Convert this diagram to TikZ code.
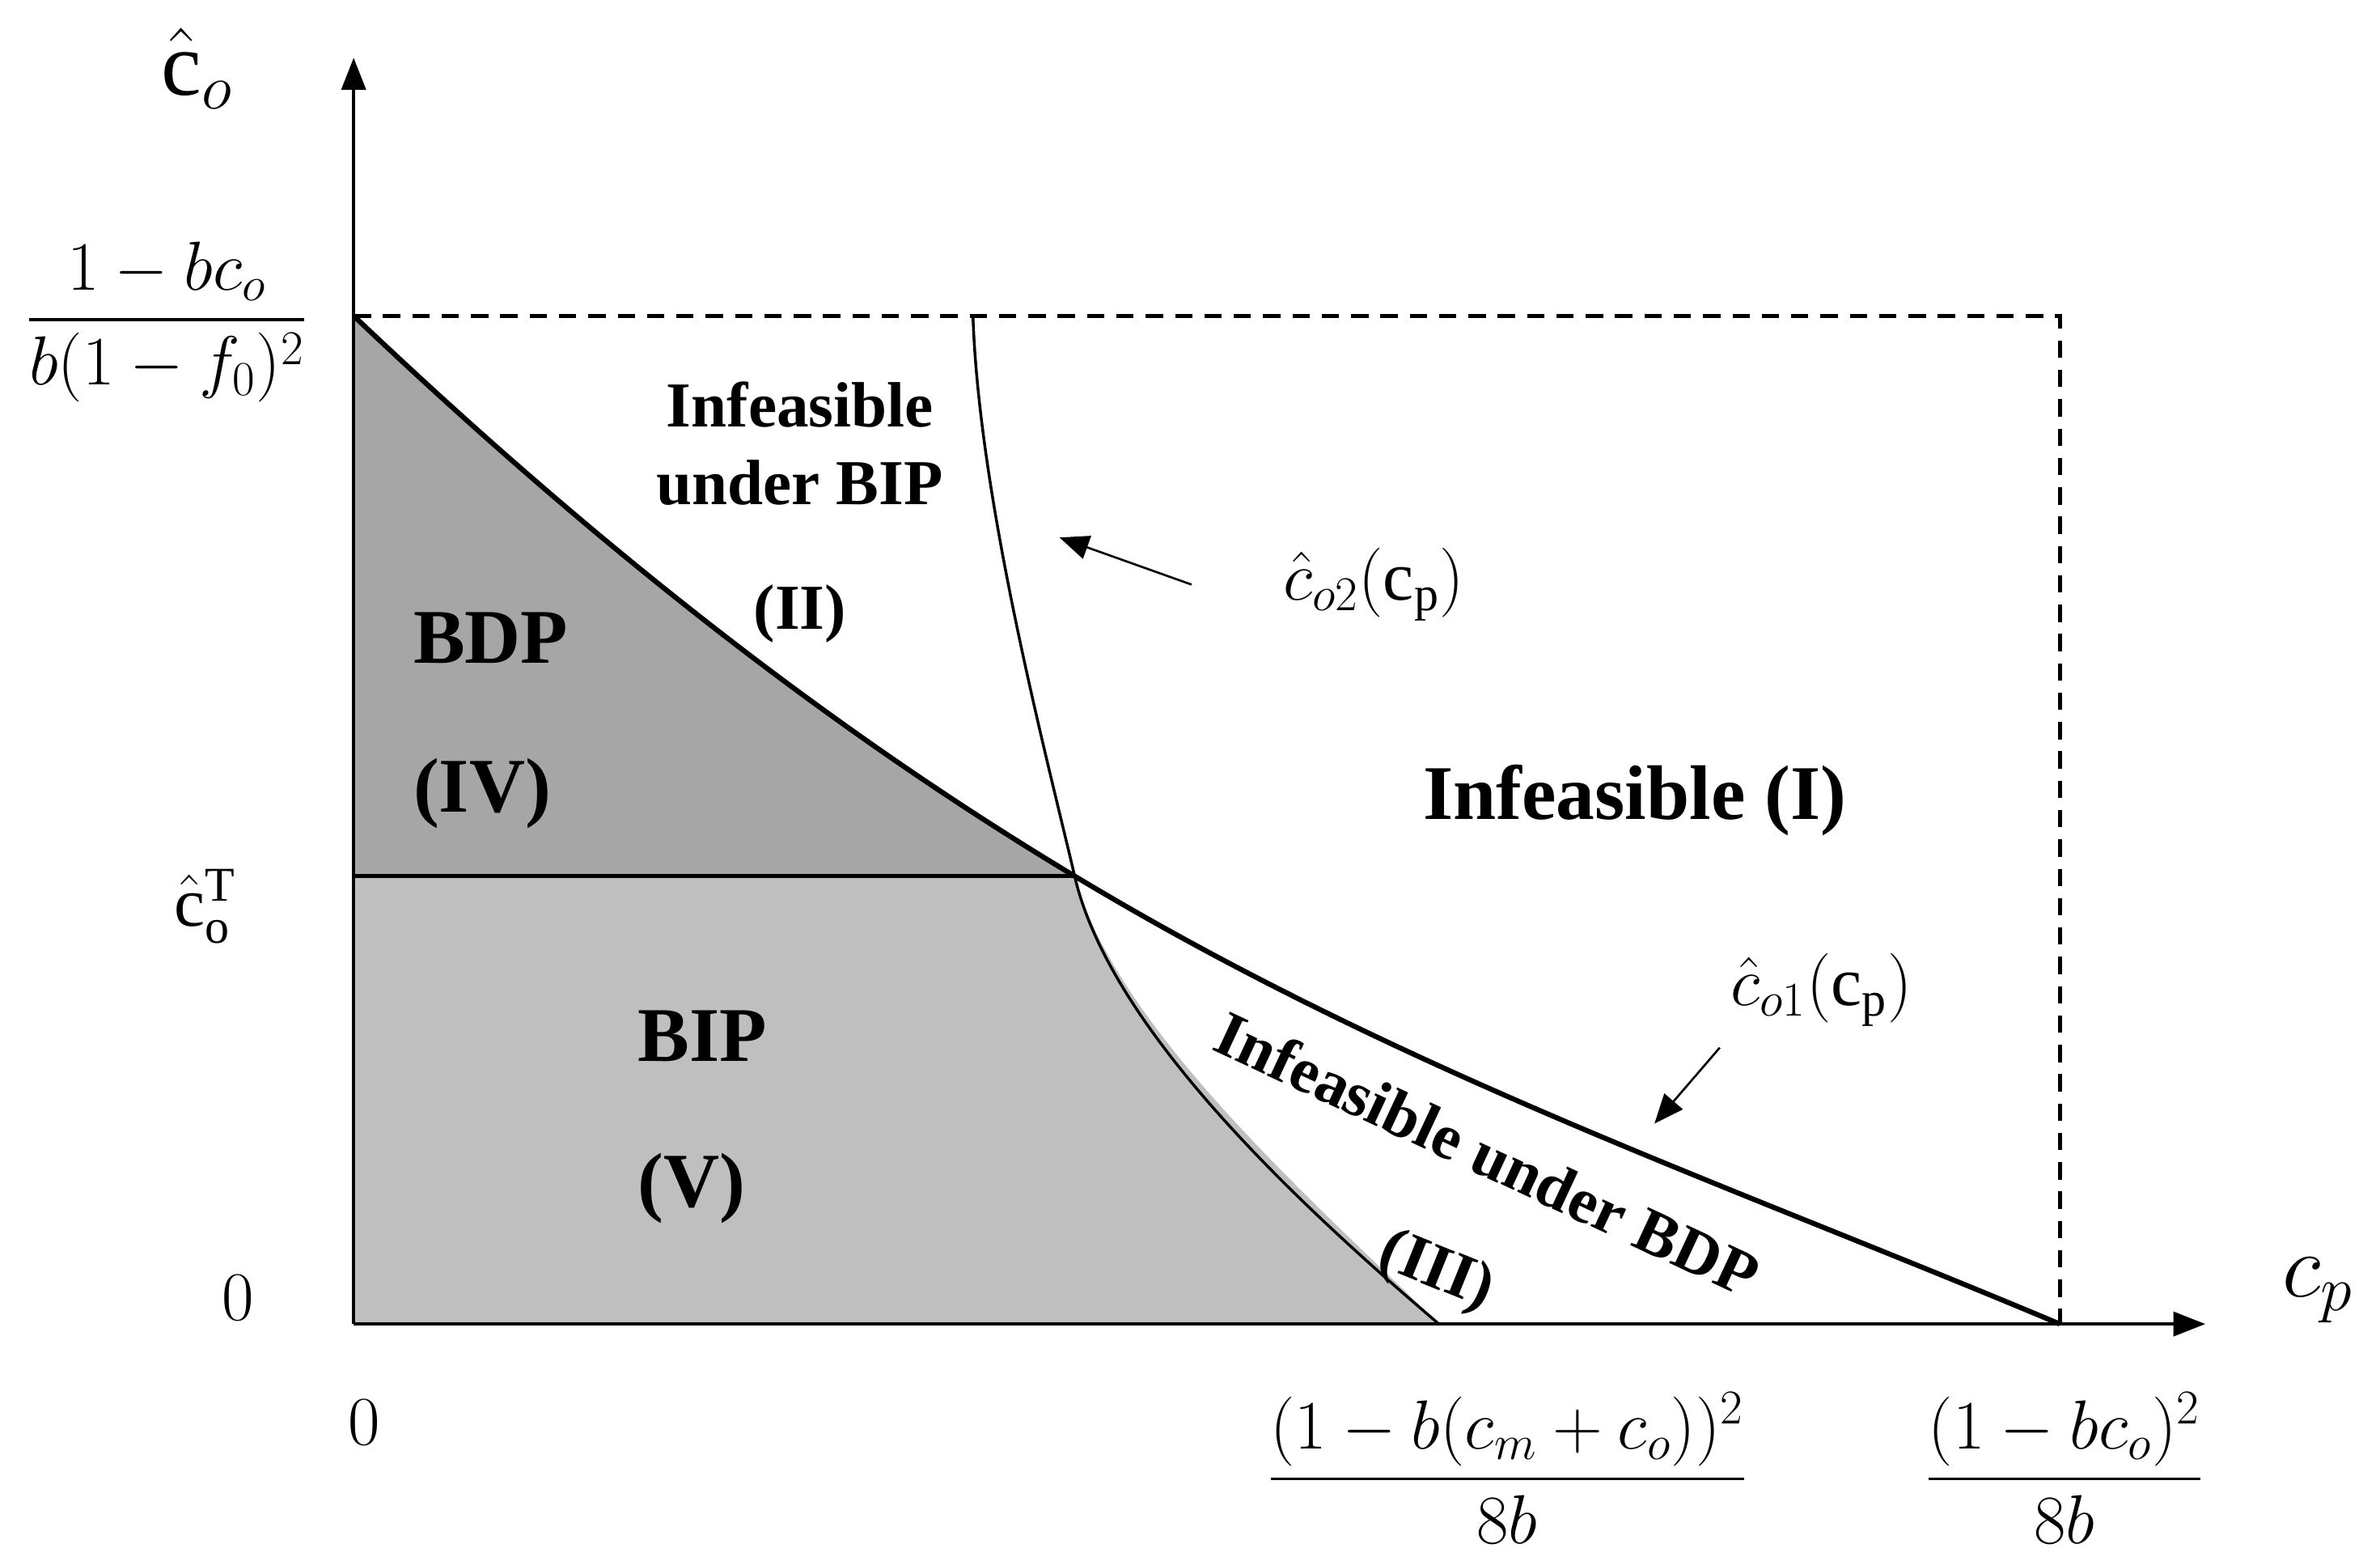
\RequirePackage{fix-cm}
\documentclass[tikz,border=0pt]{standalone}
\usepackage{amsmath}
\usepackage{fontspec}
\setmainfont{Liberation Serif}
\usetikzlibrary{arrows.meta}
\begin{document}
\begin{tikzpicture}[x=0.02cm,y=-0.02cm,
  axis/.style={line width=1.4pt,-{Triangle[length=12pt,width=9pt]}},
  bound/.style={line width=1.9pt},
  thinbound/.style={line width=1.05pt},
  level/.style={line width=1.6pt},
  guide/.style={line width=1.5pt,dash pattern=on 6.5pt off 4.5pt},
  pointer/.style={line width=0.8pt,-{Triangle[length=11pt,width=9pt]}},
  bigbold/.style={font=\fontsize{29}{33}\selectfont\bfseries,inner sep=0pt},
  midbold/.style={font=\fontsize{24}{29}\selectfont\bfseries,inner sep=0pt},
  mathlbl/.style={font=\fontsize{26}{31}\selectfont,inner sep=0pt},
  axlbl/.style={font=\fontsize{34}{40}\selectfont,inner sep=0pt}]
\useasboundingbox (0,0) rectangle (1568,1028);
% key points
\coordinate (O) at (233,872);
\coordinate (Ytop) at (233,38);
\coordinate (Xend) at (1453,872);
\coordinate (A) at (233,208);
\coordinate (Dtop) at (1357,208);
\coordinate (Dbot) at (1357,872);
\coordinate (P) at (708,577);
\coordinate (T) at (233,577);
\coordinate (Q) at (641,208);
\coordinate (R) at (948,872);
% fills
\fill[black!35] (A) .. controls (393,360) and (548,481) .. (P) -- (T) -- cycle;
\fill[black!25] (T) -- (P) .. controls (735,677) and (864,790) .. (R) -- (O) -- cycle;
% dashed guides
\draw[guide] (A) -- (Dtop) -- (Dbot);
% level line
\draw[level] (T) -- (P);
% curves
\draw[thinbound] (Q) .. controls (645,330) and (690,500) .. (P)
   .. controls (731,677) and (854,792) .. (R);
\draw[bound] (A) .. controls (393,360) and (548,481) .. (P)
   .. controls (924,707) and (1141,781) .. (Dbot);
% axes
\draw[axis] (O) -- (Ytop);
\draw[axis] (O) -- (Xend);
% axis labels
\node[axlbl] (ylab) at (130,45) {$\hat{\mathrm{c}}_o$};
\node[axlbl] (xlab) at (1527,850) {$c_p$};
\node[mathlbl] (ymax) at (110,212) {$\dfrac{1-bc_o}{b(1-f_0)^2}$};
\node[mathlbl] (yT) at (135,597) {$\hat{\mathrm{c}}_{\mathrm{o}}^{\mathrm{T}}$};
\node[mathlbl] (y0) at (157,855) {$0$};
\node[mathlbl] (x0) at (240,937) {$0$};
\node[mathlbl] (x1) at (993,967) {$\dfrac{(1-b(c_m+c_o))^2}{8b}$};
\node[mathlbl] (x2) at (1360,967) {$\dfrac{(1-bc_o)^2}{8b}$};
% curve labels and pointers
\node[mathlbl] (l2) at (905,385) {$\hat{c}_{o2}(\mathrm{c}_{\mathrm{p}})$};
\node[mathlbl] (l1) at (1200,652) {$\hat{c}_{o1}(\mathrm{c}_{\mathrm{p}})$};
\coordinate (p2tail) at (785,385);
\coordinate (p2tip) at (698,354);
\coordinate (p1tail) at (1133,690);
\coordinate (p1tip) at (1090,740);
\draw[pointer] (p2tail) -- (p2tip);
\draw[pointer] (p1tail) -- (p1tip);
% region labels
\node[midbold,align=center] (r2) at (527,292) {Infeasible\\under BIP};
\node[midbold] (r2n) at (527,404) {(II)};
\node[bigbold,anchor=base west] (r4a) at (272,437) {BDP};
\node[bigbold,anchor=base west] (r4b) at (272,535) {(IV)};
\node[bigbold,anchor=base west] (r5a) at (420,699) {BIP};
\node[bigbold,anchor=base west] (r5b) at (420,795) {(V)};
\node[bigbold] (r1) at (1077,527) {Infeasible (I)};
\node[midbold,rotate=-25] (r3) at (980,760) {Infeasible under BDP};
\node[midbold,rotate=-22] (r3n) at (946,838) {(III)};
\end{tikzpicture}
\end{document}
